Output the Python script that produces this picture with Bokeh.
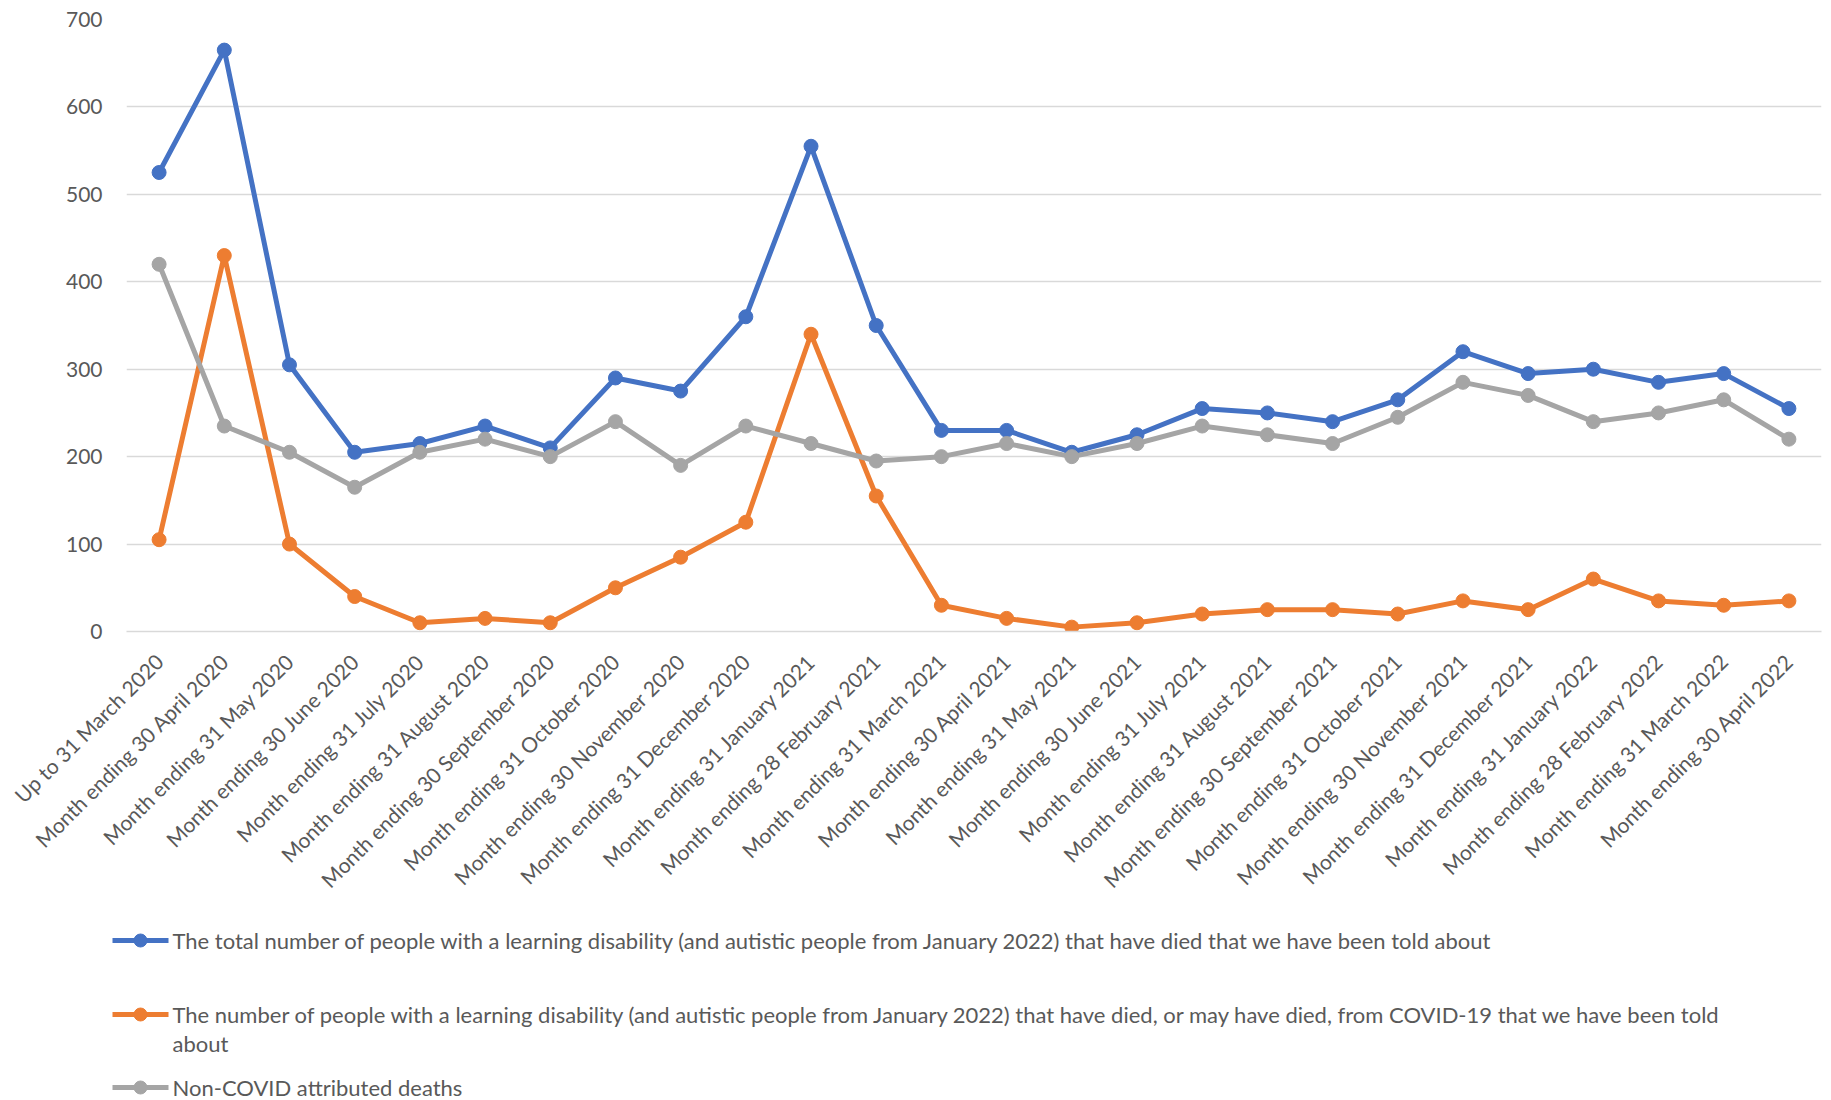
import math
from bokeh.plotting import figure
from bokeh.models import FactorRange, Range1d, FixedTicker, ColumnDataSource
from bokeh.layouts import column
from bokeh.core.properties import value
from bokeh.embed import file_html
from bokeh.resources import INLINE

categories = [
    "Up to 31 March 2020", "Month ending 30 April 2020", "Month ending 31 May 2020",
    "Month ending 30 June 2020", "Month ending 31 July 2020", "Month ending 31 August 2020",
    "Month ending 30 September 2020", "Month ending 31 October 2020",
    "Month ending 30 November 2020", "Month ending 31 December 2020",
    "Month ending 31 January 2021", "Month ending 28 February 2021",
    "Month ending 31 March 2021", "Month ending 30 April 2021", "Month ending 31 May 2021",
    "Month ending 30 June 2021", "Month ending 31 July 2021", "Month ending 31 August 2021",
    "Month ending 30 September 2021", "Month ending 31 October 2021",
    "Month ending 30 November 2021", "Month ending 31 December 2021",
    "Month ending 31 January 2022", "Month ending 28 February 2022",
    "Month ending 31 March 2022", "Month ending 30 April 2022",
]

total_deaths = [525, 665, 305, 205, 215, 235, 210, 290, 275, 360, 555, 350, 230,
                230, 205, 225, 255, 250, 240, 265, 320, 295, 300, 285, 295, 255]
covid_deaths = [105, 430, 100, 40, 10, 15, 10, 50, 85, 125, 340, 155, 30,
                15, 5, 10, 20, 25, 25, 20, 35, 25, 60, 35, 30, 35]
non_covid_deaths = [420, 235, 205, 165, 205, 220, 200, 240, 190, 235, 215, 195, 200,
                    215, 200, 215, 235, 225, 215, 245, 285, 270, 240, 250, 265, 220]

y_ticks = [0, 100, 200, 300, 400, 500, 600, 700]

series_labels = [
    ["The total number of people with a learning disability (and autistic people from January 2022) that have died that we have been told about"],
    ["The number of people with a learning disability (and autistic people from January 2022) that have died, or may have died, from COVID-19  that we have been told",
     "about"],
    ["Non-COVID attributed deaths"],
]
series_values = [total_deaths, covid_deaths, non_covid_deaths]
series_colors = ["#4472C4", "#ED7D31", "#A5A5A5"]

FONT = "Lato"
TXT = "#595959"
GRID = "#D9D9D9"

MAIN_H = 903
p = figure(
    x_range=FactorRange(factors=categories),
    y_range=Range1d(0, 700),
    width=1831, height=MAIN_H,
    min_border_left=126, min_border_right=10, min_border_top=19, min_border_bottom=272,
    output_backend="svg", toolbar_location=None,
)
p.outline_line_color = None
p.xgrid.grid_line_color = None
p.ygrid.grid_line_color = GRID
p.ygrid.grid_line_width = 1.5

p.yaxis.ticker = FixedTicker(ticks=y_ticks)
p.yaxis.axis_line_color = None
p.yaxis.major_tick_line_color = None
p.yaxis.minor_tick_line_color = None
p.yaxis.major_label_standoff = 18
p.yaxis.major_label_text_font = FONT
p.yaxis.major_label_text_font_size = "21px"
p.yaxis.major_label_text_color = TXT

p.xaxis.axis_line_color = GRID
p.xaxis.axis_line_width = 1.5
p.xaxis.major_tick_line_color = None
p.xaxis.minor_tick_line_color = None
p.xaxis.major_label_orientation = math.pi / 4
p.xaxis.major_label_standoff = 20
p.xaxis.major_label_text_font = FONT
p.xaxis.major_label_text_font_size = "21px"
p.xaxis.major_label_text_color = TXT

for vals, col in zip(series_values, series_colors):
    src = ColumnDataSource(dict(x=categories, y=vals))
    p.line("x", "y", source=src, line_color=col, line_width=5, line_join="round")
    p.scatter("x", "y", source=src, size=14, fill_color=col, line_color=col)

# Legend panel below
LH = 1100 - MAIN_H
lg = figure(
    width=1831, height=LH,
    x_range=Range1d(0, 1831), y_range=Range1d(LH, 0),
    x_axis_location=None, y_axis_location=None,
    min_border=0, output_backend="svg", toolbar_location=None,
)
try:
    lg.frame_align = False
except Exception:
    pass
lg.outline_line_color = None
lg.xgrid.visible = False
lg.ygrid.visible = False

entry_tops = [37, 111, 184]
line_gap = 29
sym_x0, sym_x1, text_x = 112, 168, 172
for top, lab_lines, col in zip(entry_tops, series_labels, series_colors):
    lg.line([sym_x0, sym_x1], [top, top], line_color=col, line_width=5)
    lg.scatter([(sym_x0 + sym_x1) / 2], [top], size=13, fill_color=col, line_color=col)
    lg.text(x=[text_x] * len(lab_lines),
            y=[top + i * line_gap for i in range(len(lab_lines))],
            text=lab_lines, text_font=value(FONT), text_font_size="22px",
            text_color=TXT, text_baseline="middle", text_align="left")

layout = column(p, lg, spacing=0)
open("out.html", "w").write(file_html(layout, INLINE))
